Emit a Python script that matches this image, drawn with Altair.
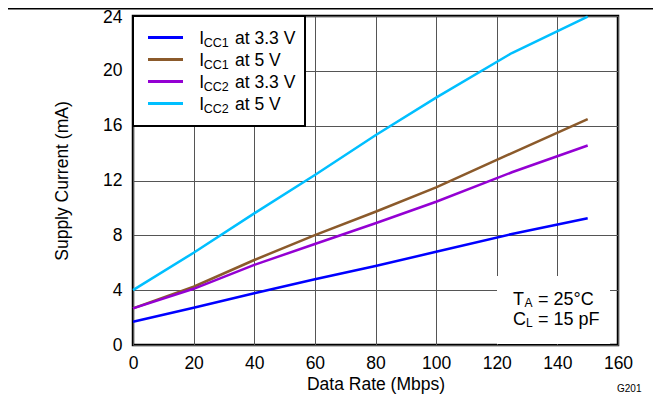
import altair as alt
import pandas as pd

# ---- data ----
data_rate = [0, 20, 40, 60, 80, 100, 125, 150]
icc1_33 = [1.70, 2.72, 3.77, 4.79, 5.76, 6.80, 8.10, 9.24]
icc1_5 = [2.67, 4.25, 6.20, 8.02, 9.72, 11.50, 14.00, 16.48]
icc2_33 = [2.67, 4.10, 5.84, 7.37, 8.88, 10.45, 12.60, 14.55]
icc2_5 = [4.00, 6.73, 9.60, 12.40, 15.30, 18.05, 21.30, 23.95]

series_keys = ["icc1_33", "icc1_5", "icc2_33", "icc2_5"]
series_sub = ["CC1", "CC1", "CC2", "CC2"]
series_rest = ["at 3.3 V", "at 5 V", "at 3.3 V", "at 5 V"]
series_colors = ["#0000ff", "#8b5a2b", "#9400d3", "#00bfff"]

x_ticks = [0, 20, 40, 60, 80, 100, 120, 140, 160]
y_ticks = [0, 4, 8, 12, 16, 20, 24]

x_title = "Data Rate (Mbps)"
y_title = "Supply Current (mA)"
note_lines = [("T", "A", "= 25°C"), ("C", "L", "= 15 pF")]
fig_id = "G201"

FONT = "Liberation Sans"

series_values = [icc1_33, icc1_5, icc2_33, icc2_5]
rows = []
for order, (key, vals) in enumerate(zip(series_keys, series_values)):
    for r, v in zip(data_rate, vals):
        rows.append({"rate": r, "current": v, "key": key, "order": order})
df = pd.DataFrame(rows)

one = pd.DataFrame({"_": [0]})

W, H = 485, 329

lines = alt.Chart(df).mark_line(strokeWidth=2.5).encode(
    x=alt.X("rate:Q", scale=alt.Scale(domain=[0, 160], nice=False, zero=False),
            axis=alt.Axis(values=x_ticks, title=x_title, labelPadding=9, labelFlush=False,
                          titleX=W / 2, titleY=44, titleAlign="center",
                          titleBaseline="alphabetic")),
    y=alt.Y("current:Q", scale=alt.Scale(domain=[0, 24], nice=False),
            axis=alt.Axis(values=y_ticks, title=y_title, labelPadding=11, labelFlush=False,
                          labelOffset={"condition": {"test": "datum.value == 24", "value": 1.5}, "value": 0},
                          titleX=-66, titleY=H / 2, titleAngle=270,
                          titleAlign="center", titleBaseline="alphabetic")),
    color=alt.Color("key:N", scale=alt.Scale(domain=series_keys, range=series_colors), legend=None),
    detail="key:N",
    order="rate:Q",
)

layers = [lines]

# legend box
layers.append(alt.Chart(one).mark_rect(fill="white", stroke="black", strokeWidth=2).encode(
    x=alt.value(0), x2=alt.value(172), y=alt.value(0), y2=alt.value(110)))

for i in range(len(series_keys)):
    yc = 21.5 + 22 * i
    layers.append(alt.Chart(one).mark_rule(color=series_colors[i], strokeWidth=3).encode(
        x=alt.value(15), x2=alt.value(50), y=alt.value(yc)))
    layers.append(alt.Chart(one).mark_text(text="I", font=FONT, fontSize=17.5, align="left",
                                           baseline="alphabetic", color="black").encode(
        x=alt.value(66.3), y=alt.value(yc + 6.3)))
    layers.append(alt.Chart(one).mark_text(text=series_sub[i], font=FONT, fontSize=12.5, align="left",
                                           baseline="alphabetic", color="black").encode(
        x=alt.value(70.8), y=alt.value(yc + 9)))
    layers.append(alt.Chart(one).mark_text(text=series_rest[i], font=FONT, fontSize=17.5, align="left",
                                           baseline="alphabetic", color="black").encode(
        x=alt.value(102), y=alt.value(yc + 6.3)))

# conditions box
layers.append(alt.Chart(one).mark_rect(fill="white").encode(
    x=alt.value(364), x2=alt.value(477), y=alt.value(260), y2=alt.value(328)))
for j, (main, sub, rest) in enumerate(note_lines):
    base = 289 + 20 * j
    layers.append(alt.Chart(one).mark_text(text=main, font=FONT, fontSize=18, align="left",
                                           baseline="alphabetic", color="black").encode(
        x=alt.value(380), y=alt.value(base)))
    layers.append(alt.Chart(one).mark_text(text=sub, font=FONT, fontSize=12, align="left",
                                           baseline="alphabetic", color="black").encode(
        x=alt.value(391.5 if j == 0 else 393), y=alt.value(base + 2)))
    layers.append(alt.Chart(one).mark_text(text=rest, font=FONT, fontSize=18, align="left",
                                           baseline="alphabetic", color="black").encode(
        x=alt.value(405), y=alt.value(base)))

# page rule at top and figure id
layers.append(alt.Chart(one).mark_rule(color="black", strokeWidth=1.5).encode(
    x=alt.value(-125), x2=alt.value(520), y=alt.value(-7.2)))
layers.append(alt.Chart(one).mark_text(text=fig_id, font=FONT, fontSize=10, align="left",
                                       baseline="alphabetic", color="black").encode(
    x=alt.value(484), y=alt.value(376)))

chart = alt.layer(*layers).properties(
    width=W, height=H,
    autosize=alt.AutoSizeParams(type="none"),
    padding={"left": 125, "top": 8, "right": 35, "bottom": 49},
).configure(
    font=FONT, background="white"
).configure_view(
    stroke="black", strokeWidth=2.5
).configure_axis(
    grid=True, gridColor="#555555", gridWidth=1, domain=False, ticks=False, tickSize=0,
    labelFont=FONT, labelFontSize=17.5, labelColor="black",
    titleFont=FONT, titleFontSize=17.5, titleFontWeight="normal", titleColor="black",
)

chart.save("out.html", embed_options={"renderer": "svg", "actions": False})
